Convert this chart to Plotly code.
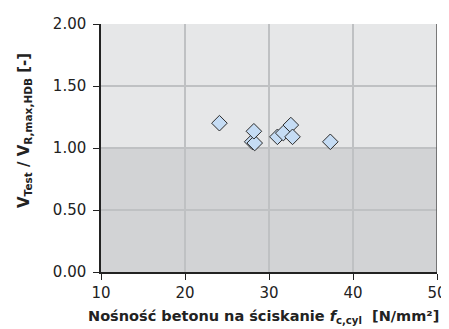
import plotly.graph_objects as go

# Data
fck = [24.1, 28.0, 28.3, 28.2, 31.0, 31.7, 32.6, 32.8, 37.3]
ratio = [1.20, 1.05, 1.04, 1.135, 1.09, 1.12, 1.185, 1.09, 1.05]

x_ticks = [10, 20, 30, 40, 50]
y_ticks = [0.0, 0.5, 1.0, 1.5, 2.0]
y_tick_labels = ["0.00", "0.50", "1.00", "1.50", "2.00"]

x_title = "<b>Nośność betonu na ściskanie <i>f</i><sub>c,cyl</sub>  [N/mm²]</b>"
y_title = "<b>V<sub>Test</sub> / V<sub>R,max,HDB</sub> [-]</b>"

fig = go.Figure()
fig.add_trace(go.Scatter(
    x=fck, y=ratio, mode="markers",
    marker=dict(symbol="diamond", size=12, color="#c5dcf4",
                line=dict(color="#2b2b2b", width=1)),
    showlegend=False, hoverinfo="x+y",
))

# background zones
fig.add_shape(type="rect", xref="x", yref="y", x0=10, x1=50, y0=0, y1=1,
              fillcolor="#d2d3d5", line=dict(width=0), layer="below")
fig.add_shape(type="rect", xref="x", yref="y", x0=10, x1=50, y0=1, y1=2,
              fillcolor="#e6e7e8", line=dict(width=0), layer="below")
# right frame line
fig.add_shape(type="line", xref="x", yref="y", x0=50, x1=50, y0=0, y1=2,
              line=dict(color="#555555", width=1.5), layer="above")

tick_font = dict(family="DejaVu Sans, sans-serif", size=15, color="#222222")
title_font = dict(family="DejaVu Sans, sans-serif", size=14.5, color="#222222")

OFF = 8  # page body margin
W, H = 449 - OFF, 329 - OFF
L, T = 101 - OFF, 24 - OFF
R = W - (437 - OFF)
B = H - (272 - OFF)
pw, ph = W - L - R, H - T - B


def px_to_paper(sx, sy):
    fx, fy = sx - OFF, sy - OFF
    return (fx - L) / pw, (H - B - fy) / ph


xt_x, xt_y = px_to_paper(263, 317)
yt_x, yt_y = px_to_paper(25, 131)

fig.add_annotation(text=x_title, xref="paper", yref="paper",
                   x=xt_x, y=xt_y,
                   xanchor="center", yanchor="middle", showarrow=False,
                   font=title_font)
fig.add_annotation(text=y_title, xref="paper", yref="paper",
                   x=yt_x, y=yt_y, textangle=-90,
                   xanchor="center", yanchor="middle", showarrow=False,
                   font=dict(family="DejaVu Sans, sans-serif", size=15, color="#222222"))

fig.update_layout(
    width=W, height=H,
    margin=dict(l=L, r=R, t=T, b=B),
    paper_bgcolor="white", plot_bgcolor="#e6e7e8",
    font=dict(family="DejaVu Sans, sans-serif", color="#222222"),
    xaxis=dict(
        range=[10, 50], tickvals=x_ticks, ticktext=[str(v) for v in x_ticks],
        showgrid=True, gridcolor="#bfc1c3", gridwidth=1.5, zeroline=False,
        showline=True, linecolor="#222222", linewidth=1.5,
        ticks="outside", ticklen=6, tickcolor="#222222", tickwidth=1.2,
        tickfont=tick_font, automargin=False,
    ),
    yaxis=dict(
        range=[0, 2], tickvals=y_ticks, ticktext=y_tick_labels,
        showgrid=True, gridcolor="#bfc1c3", gridwidth=1.5, zeroline=False,
        showline=True, linecolor="#222222", linewidth=1.5,
        ticks="outside", ticklen=6, tickcolor="#222222", tickwidth=1.2,
        tickfont=tick_font, automargin=False, ticklabelstandoff=4,
    ),
)

fig.write_html("out.html")
